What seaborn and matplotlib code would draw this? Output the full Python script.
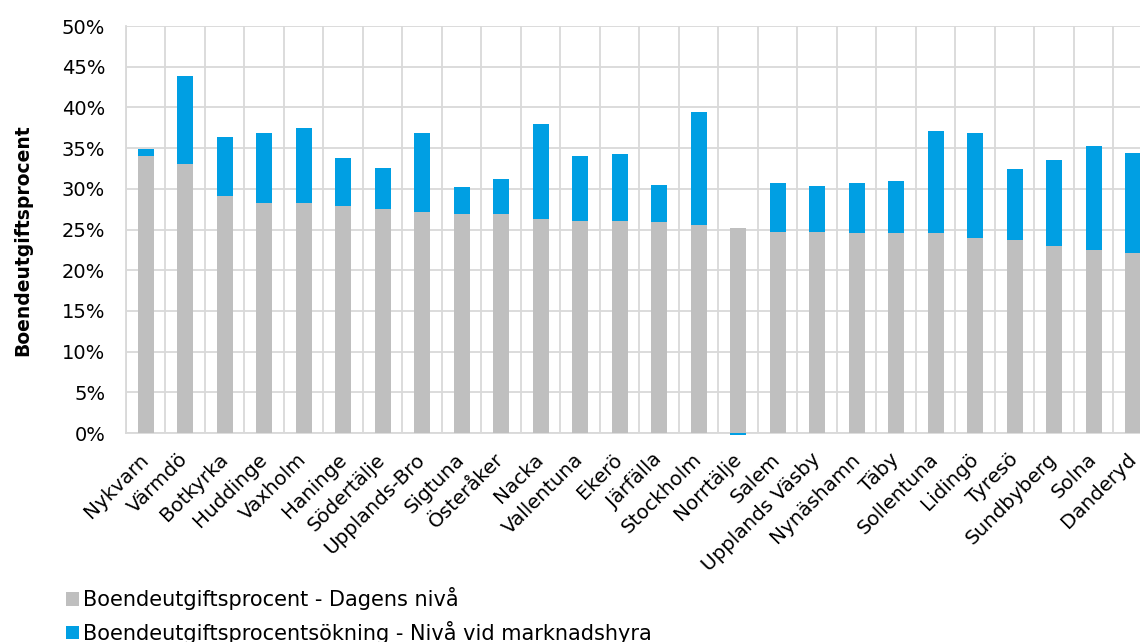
import matplotlib
matplotlib.use("Agg")
import matplotlib.pyplot as plt
import seaborn as sns
import numpy as np
import pandas as pd
from matplotlib.patches import Patch
from matplotlib.ticker import FuncFormatter, FixedLocator

kommuner = ["Nykvarn", "Värmdö", "Botkyrka", "Huddinge", "Vaxholm", "Haninge",
            "Södertälje", "Upplands-Bro", "Sigtuna", "Österåker", "Nacka",
            "Vallentuna", "Ekerö", "Järfälla", "Stockholm", "Norrtälje", "Salem",
            "Upplands Väsby", "Nynäshamn", "Täby", "Sollentuna", "Lidingö",
            "Tyresö", "Sundbyberg", "Solna", "Danderyd"]
dagens_niva = [34.0, 33.0, 29.1, 28.3, 28.2, 27.9, 27.5, 27.2, 26.9, 26.9, 26.3,
               26.1, 26.1, 25.9, 25.6, 25.2, 24.7, 24.7, 24.6, 24.6, 24.6, 23.9,
               23.7, 23.0, 22.5, 22.1]
okning = [0.9, 10.9, 7.3, 8.5, 9.3, 5.9, 5.1, 9.7, 3.3, 4.3, 11.7, 7.9, 8.2, 4.6,
          13.8, -0.2, 6.0, 5.6, 6.1, 6.3, 12.5, 13.0, 8.7, 10.5, 12.7, 12.3]
y_ticks = [0, 5, 10, 15, 20, 25, 30, 35, 40, 45, 50]

label_dagens = "Boendeutgiftsprocent - Dagens nivå"
label_okning = "Boendeutgiftsprocentsökning - Nivå vid marknadshyra"
ylabel = "Boendeutgiftsprocent"

GRAY = "#BFBFBF"
BLUE = "#009FE3"
GRID = "#D9D9D9"

sns.set_style("white")
plt.rcParams["font.family"] = ["DejaVu Sans"]
plt.rcParams["text.color"] = "#000000"

df = pd.DataFrame({"kommun": kommuner, "dagens": dagens_niva, "okning": okning})
df["top"] = df["dagens"] + df["okning"].clip(lower=0)
df["neg"] = df["okning"].clip(upper=0)

fig = plt.figure(figsize=(11.40, 6.42), dpi=100)
ax = fig.add_axes([0.1105, 0.3255, 0.9009, 0.634])

bw = 0.40
kw = dict(width=bw, ax=ax, saturation=1, errorbar=None, linewidth=0,
          edgecolor="none")
sns.barplot(data=df, x="kommun", y="top", color=BLUE, zorder=3, **kw)
sns.barplot(data=df, x="kommun", y="dagens", color=GRAY, zorder=4, **kw)
n_before = len(ax.patches)
sns.barplot(data=df, x="kommun", y="neg", color=BLUE, zorder=4, **kw)
for p in ax.patches[n_before:]:
    p.set_clip_on(False)

ax.set_ylim(0, 50)
ax.set_xlim(-0.5, len(kommuner) - 0.5)
ax.yaxis.set_major_locator(FixedLocator(y_ticks))
ax.yaxis.set_major_formatter(FuncFormatter(lambda v, p: f"{v:.0f}%"))
ax.xaxis.set_minor_locator(FixedLocator(np.arange(-0.5, len(kommuner), 1.0)))
ax.grid(axis="y", which="major", color=GRID, lw=1.3, zorder=0)
ax.grid(axis="x", which="minor", color=GRID, lw=1.3, zorder=0)
ax.grid(axis="x", which="major", visible=False)
ax.set_axisbelow(True)

for s in ["top", "right"]:
    ax.spines[s].set_visible(False)
for s in ["left", "bottom"]:
    ax.spines[s].set_color(GRID)
    ax.spines[s].set_linewidth(1.3)

ax.tick_params(axis="y", length=0, pad=15, labelsize=14, labelcolor="#000000")
ax.tick_params(axis="x", which="both", length=0, pad=17, labelsize=14.3,
               labelcolor="#000000")
ax.set_xticks(range(len(kommuner)))
ax.set_xticklabels(kommuner, rotation=45, ha="right", va="center",
                   rotation_mode="anchor")
ax.set_xlabel("")
ax.set_ylabel(ylabel, fontsize=13.5, fontweight="bold", color="#000000")
ax.yaxis.set_label_coords(-0.0915, 0.474)

handles = [Patch(facecolor=GRAY, edgecolor="none", label=label_dagens),
           Patch(facecolor=BLUE, edgecolor="none", label=label_okning)]
fig.legend(handles=handles, loc="upper left", bbox_to_anchor=(0.058, 0.085),
           ncol=1, frameon=False, fontsize=15, handlelength=0.6,
           handleheight=0.6, handletextpad=0.2, labelspacing=0.5,
           borderaxespad=0, borderpad=0, labelcolor="#000000")

fig.savefig("out.png", dpi=100)
